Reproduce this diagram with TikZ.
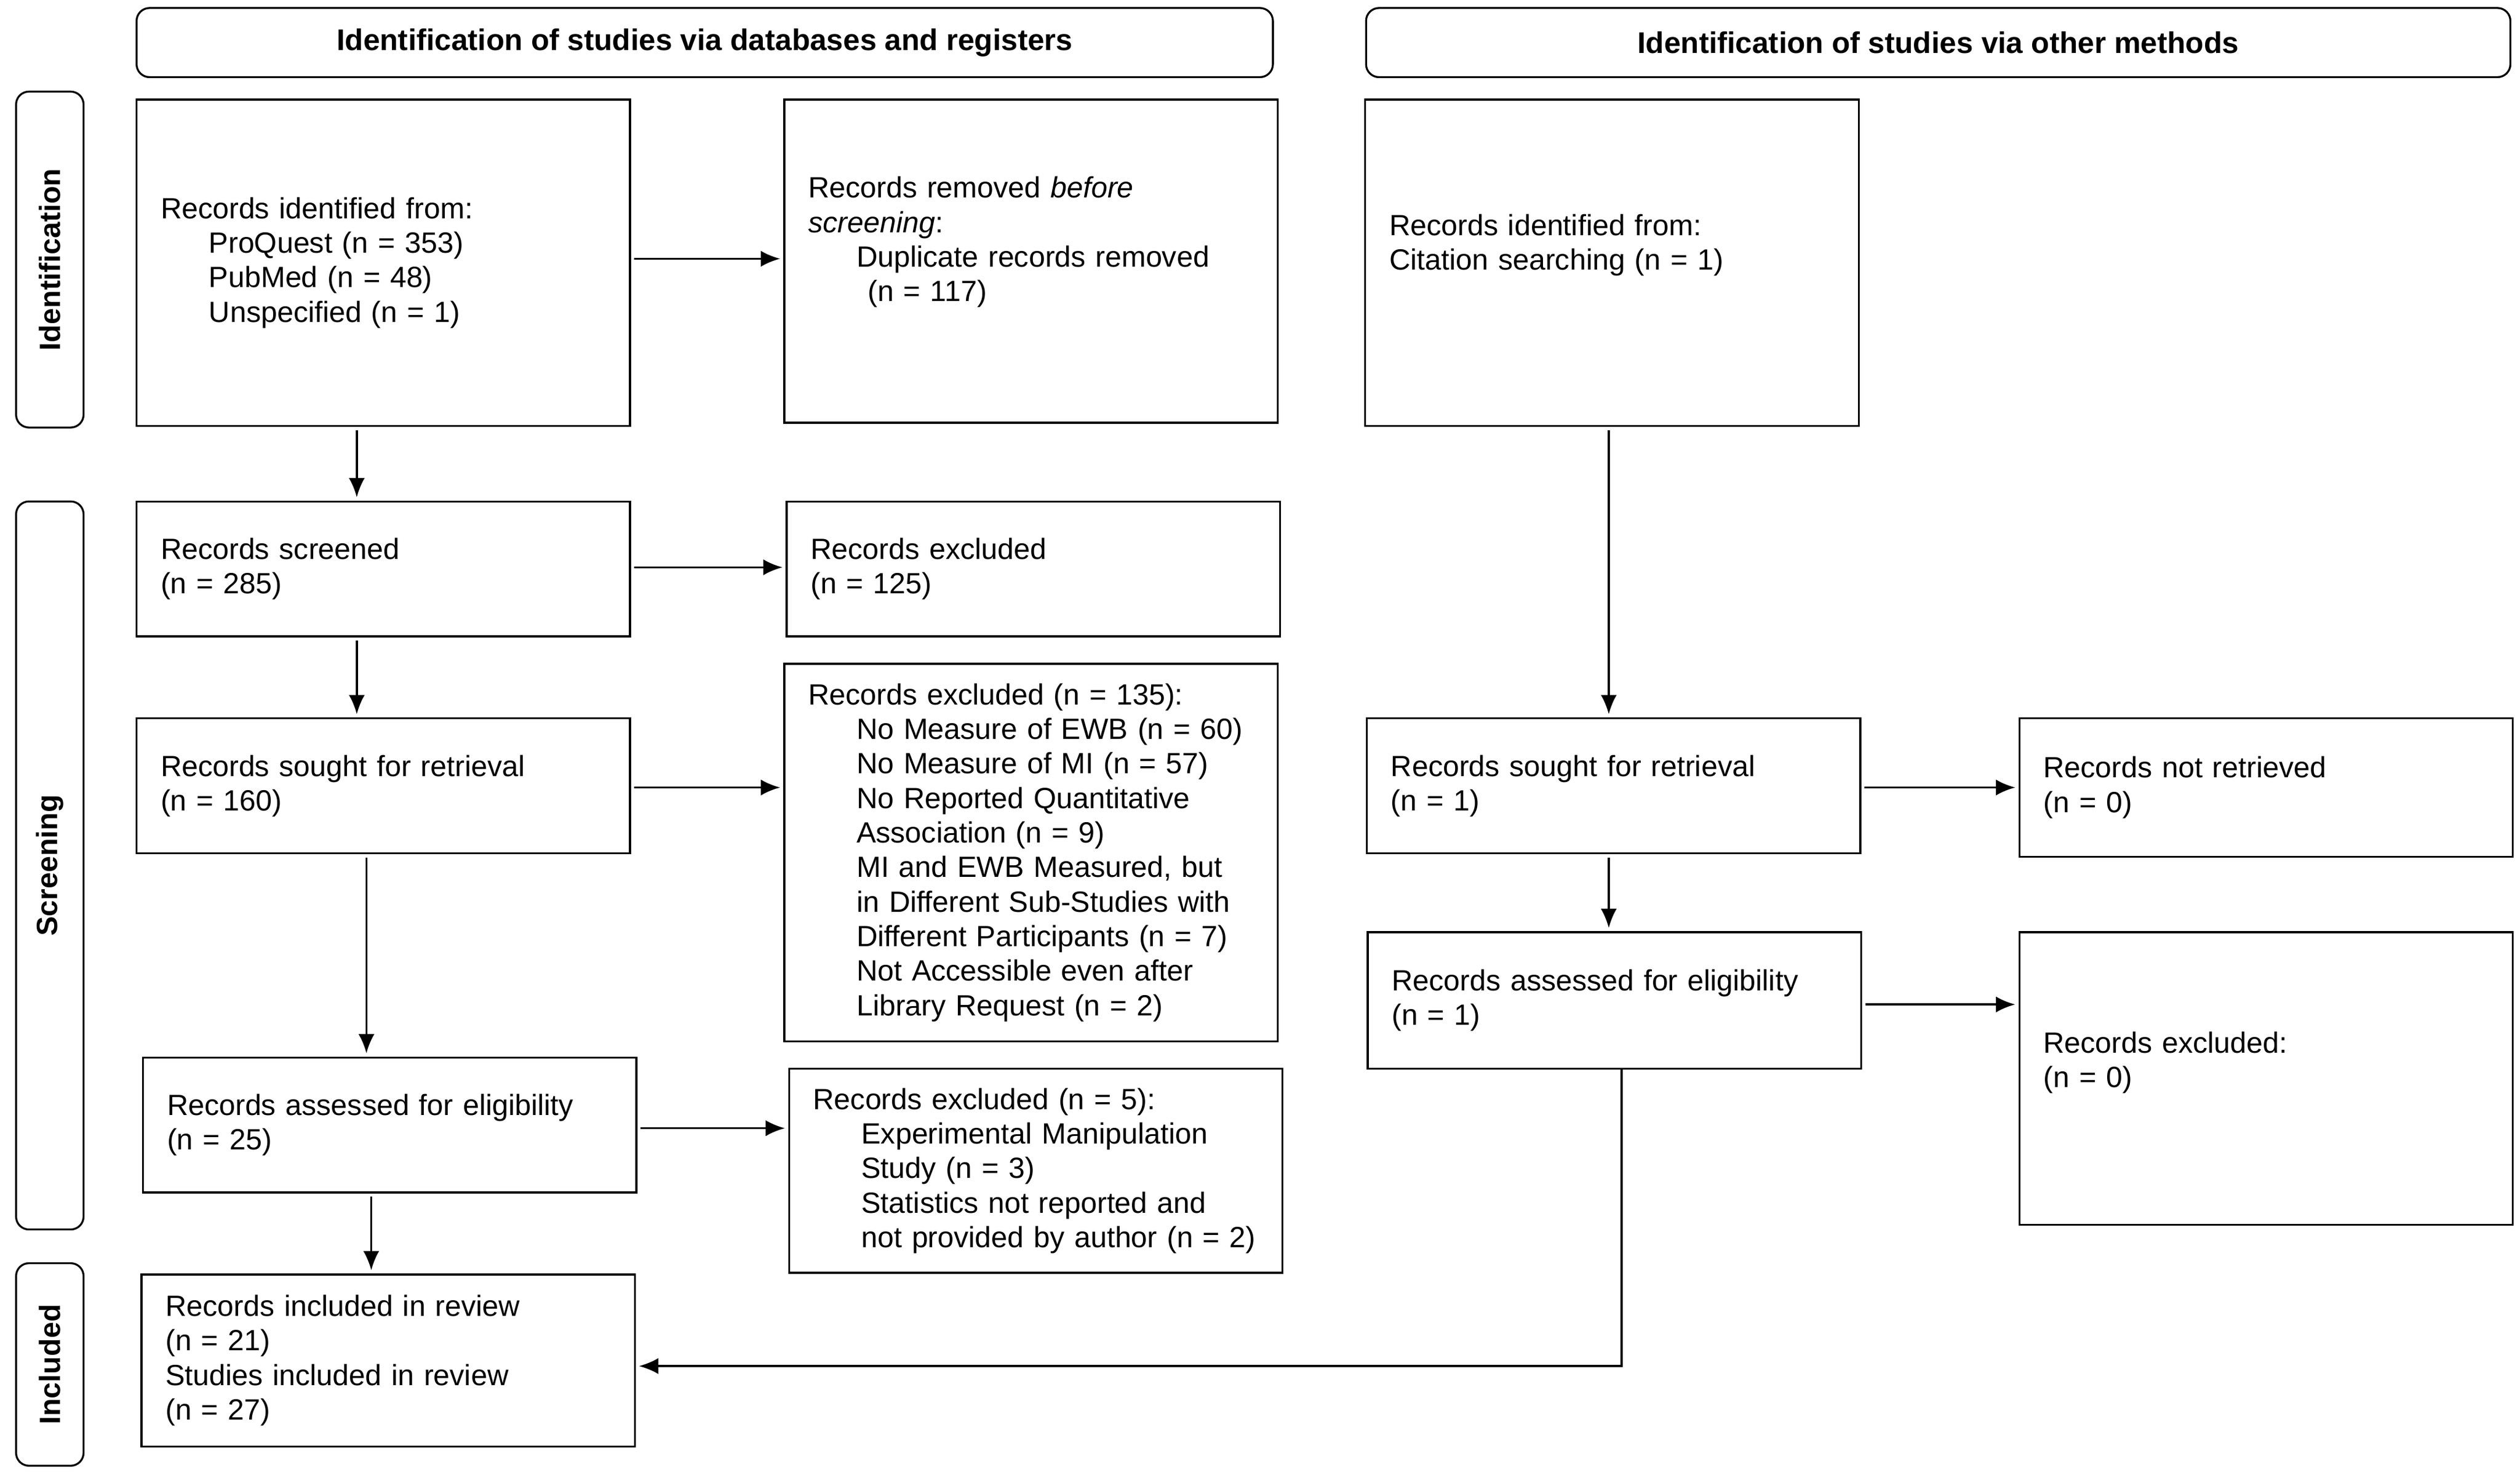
\documentclass[tikz,border=0pt]{standalone}
\usepackage{fontspec}
\setmainfont{Liberation Sans}
\usetikzlibrary{arrows.meta}
\newcommand{\boxfont}{\fontsize{18.2}{21.5}\selectfont}
\tikzset{box/.style={draw,rectangle,line width=1.2pt,inner xsep=15pt,inner ysep=0pt,
    text width=277pt,align=left,minimum height=84pt,font=\boxfont},
  head/.style={draw,rounded corners=8pt,line width=1.2pt,font=\fontsize{18.6}{21.5}\selectfont\bfseries,minimum height=43pt},
  side/.style={draw,rounded corners=8pt,line width=1.2pt,font=\boxfont\bfseries,rotate=90,minimum height=42pt,inner sep=0pt},
}
\newcommand{\ind}{\hspace*{30pt}}

\begin{document}
\begin{tikzpicture}[x=1pt,y=-1pt,->,>={Latex[length=12pt,width=10pt]},line width=1.3pt,
    shorten >=2pt,shorten <=2pt]
  \useasboundingbox (0,0) rectangle (1568,922.7);

  % headers and phases
  \node[head,minimum width=707pt] (hdb) at (438.5,26.5) {Identification of studies via databases and registers};
  \node[head,minimum width=712pt] (hot) at (1206,26.5) {Identification of studies via other methods};
  \node[side,minimum width=209pt] (pid) at (31,161.5) {Identification};
  \node[side,minimum width=453pt] (pscr) at (31,538.5) {Screening};
  \node[side,minimum width=126pt] (pinc) at (31,849) {Included};

  % databases and registers
  \node[box,minimum height=203pt] (idb) at (238.5,163.5) {Records identified from:\\
    \ind ProQuest (n = 353)\\ \ind PubMed (n = 48)\\ \ind Unspecified (n = 1)};
  \node[box,minimum height=201pt] (rem) at (641.5,162.5) {Records removed \textit{before}\\
    \textit{screening}:\\ \ind Duplicate records removed\\ \hspace*{37pt}(n = 117)\par\vspace*{6pt}\hbox{}};
  \node[box] (scr) at (238.5,354) {Records screened\\ (n = 285)};
  \node[box] (exc) at (643,354) {Records excluded\\ (n = 125)};
  \node[box] (ret) at (238.5,489) {Records sought for retrieval\\ (n = 160)};
  \node[box,minimum height=235pt] (nret) at (641.5,530.5) {Records excluded (n = 135):\\
    \ind No Measure of EWB (n = 60)\\ \ind No Measure of MI (n = 57)\\
    \ind No Reported Quantitative\\ \ind Association (n = 9)\\
    \ind MI and EWB Measured, but\\ \ind in Different Sub-Studies with\\
    \ind Different Participants (n = 7)\\ \ind Not Accessible even after\\
    \ind Library Request (n = 2)};
  \node[box] (elig) at (242.5,700) {Records assessed for eligibility\\ (n = 25)};
  \node[box,minimum height=127pt] (rexc) at (644.5,728.5) {Records excluded (n = 5):\\
    \ind Experimental Manipulation\\ \ind Study (n = 3)\\
    \ind Statistics not reported and\\ \ind not provided by author (n = 2)};
  \node[box,minimum height=107pt] (inc) at (241.5,846.5) {Records included in review\\
    (n = 21)\\ Studies included in review\\ (n = 27)};

  % other methods
  \node[box,minimum height=203pt] (oid) at (1003,163.5) {Records identified from:\\
    Citation searching (n = 1)\par\vspace*{4pt}\hbox{}};
  \node[box] (oret) at (1004,489) {Records sought for retrieval\\ (n = 1)};
  \node[box,minimum height=86pt] (onr) at (1410,490) {Records not retrieved\\ (n = 0)};
  \node[box,minimum height=85pt] (oelig) at (1004.5,622.5) {Records assessed for eligibility\\ (n = 1)};
  \node[box,minimum height=182pt] (oexc) at (1410,671) {Records excluded:\\ (n = 0)\par\vspace*{2pt}\hbox{}};

  % arrows
  \draw ([xshift=-16.5pt]idb.south) -- ([xshift=-16.5pt]idb.south |- scr.north);
  \draw ([xshift=-16.5pt]scr.south) -- ([xshift=-16.5pt]scr.south |- ret.north);
  \draw ([xshift=-10.5pt]ret.south) -- ([xshift=-10.5pt]ret.south |- elig.north);
  \draw ([xshift=-11.5pt]elig.south) -- ([xshift=-11.5pt]elig.south |- inc.north);
  \draw ([yshift=2.5pt]idb.east) -- ([yshift=2.5pt]idb.east -| rem.west);
  \draw ([yshift=1pt]scr.east) -- ([yshift=1pt]scr.east -| exc.west);
  \draw ([yshift=-1pt]ret.east) -- ([yshift=-1pt]ret.east -| nret.west);
  \draw ([yshift=-2pt]elig.east) -- ([yshift=-2pt]elig.east -| rexc.west);

  \draw ([xshift=-2pt]oid.south) -- ([xshift=-2pt]oid.south |- oret.north);
  \draw ([xshift=-3pt]oret.south) -- ([xshift=-3pt]oret.south |- oelig.north);
  \draw ([yshift=-1pt]oret.east) -- ([yshift=-1pt]oret.east -| onr.west);
  \draw ([yshift=-2.5pt]oelig.east) -- ([yshift=-2.5pt]oelig.east -| oexc.west);
  \draw[shorten <=0pt] ([xshift=4.5pt]oelig.south) |- ([yshift=-3.5pt]inc.east);
\end{tikzpicture}
\end{document}
